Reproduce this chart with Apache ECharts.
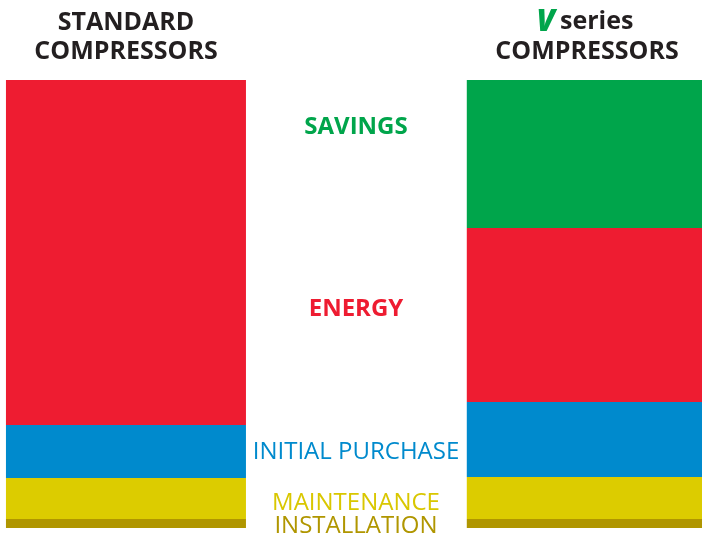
<!DOCTYPE html>
<html>
<head>
<meta charset="utf-8">
<script src="https://cdn.jsdelivr.net/npm/echarts@6/dist/echarts.min.js"></script>
<style>
  html, body { margin: 0; padding: 0; background: #ffffff; }
  #chart { width: 702px; height: 538px; }
</style>
</head>
<body>
<div id="chart"></div>
<script>
const categories = ['STANDARD COMPRESSORS', '', 'V series COMPRESSORS'];
const seriesNames = ['INSTALLATION', 'MAINTENANCE', 'INITIAL PURCHASE', 'ENERGY', 'SAVINGS'];
const installation = [9, null, 9];
const maintenance = [41, null, 42];
const initialPurchase = [53, null, 75];
const energy = [345, null, 174];
const savings = [null, null, 148];

const colors = {
  installation: '#b09600',
  maintenance: '#dccc00',
  initialPurchase: '#008acd',
  energy: '#ee1c31',
  savings: '#00a54b'
};

const dark = '#231f20';
const fontFamily = '"Open Sans", "Noto Sans", sans-serif';

function barSeries(name, data, color) {
  return {
    name: name,
    type: 'bar',
    stack: 'total',
    barWidth: 240,
    clip: false,
    data: data,
    itemStyle: { color: color },
    silent: true
  };
}

function centerText(x, y, text, fill, size, weight) {
  return {
    type: 'text',
    x: x,
    y: y,
    style: {
      text: text,
      fill: fill,
      font: (weight || 'normal') + ' ' + size + 'px ' + fontFamily,
      align: 'center',
      verticalAlign: 'middle'
    }
  };
}

const myChart = echarts.init(document.getElementById('chart'));

const option = {
  animation: false,
  grid: {
    left: 10.75,
    right: -0.25,
    top: 80,
    bottom: 10
  },
  xAxis: {
    type: 'category',
    data: categories,
    show: false
  },
  yAxis: {
    type: 'value',
    min: 0,
    max: 448,
    show: false
  },
  series: [
    barSeries(seriesNames[0], installation, colors.installation),
    barSeries(seriesNames[1], maintenance, colors.maintenance),
    barSeries(seriesNames[2], initialPurchase, colors.initialPurchase),
    barSeries(seriesNames[3], energy, colors.energy),
    barSeries(seriesNames[4], savings, colors.savings)
  ],
  graphic: [
    centerText(126, 23, 'STANDARD', dark, 25, 'bold'),
    centerText(126, 52, 'COMPRESSORS', dark, 25, 'bold'),
    {
      type: 'text',
      x: 585,
      y: 22,
      style: {
        text: '{v|V}{s|series}',
        align: 'center',
        verticalAlign: 'middle',
        rich: {
          v: { fill: colors.savings, font: 'italic 800 30px ' + fontFamily, padding: [0, 5, 0, 0] },
          s: { fill: dark, font: 'bold 25px ' + fontFamily }
        }
      }
    },
    centerText(587, 52, 'COMPRESSORS', dark, 25, 'bold'),
    centerText(356, 127, 'SAVINGS', colors.savings, 24, 'bold'),
    centerText(356, 309, 'ENERGY', colors.energy, 24, 'bold'),
    centerText(356, 452, 'INITIAL PURCHASE', colors.initialPurchase, 24),
    centerText(356, 503, 'MAINTENANCE', '#d9c700', 24),
    centerText(356, 526, 'INSTALLATION', colors.installation, 24)
  ]
};

myChart.setOption(option);
</script>
</body>
</html>
